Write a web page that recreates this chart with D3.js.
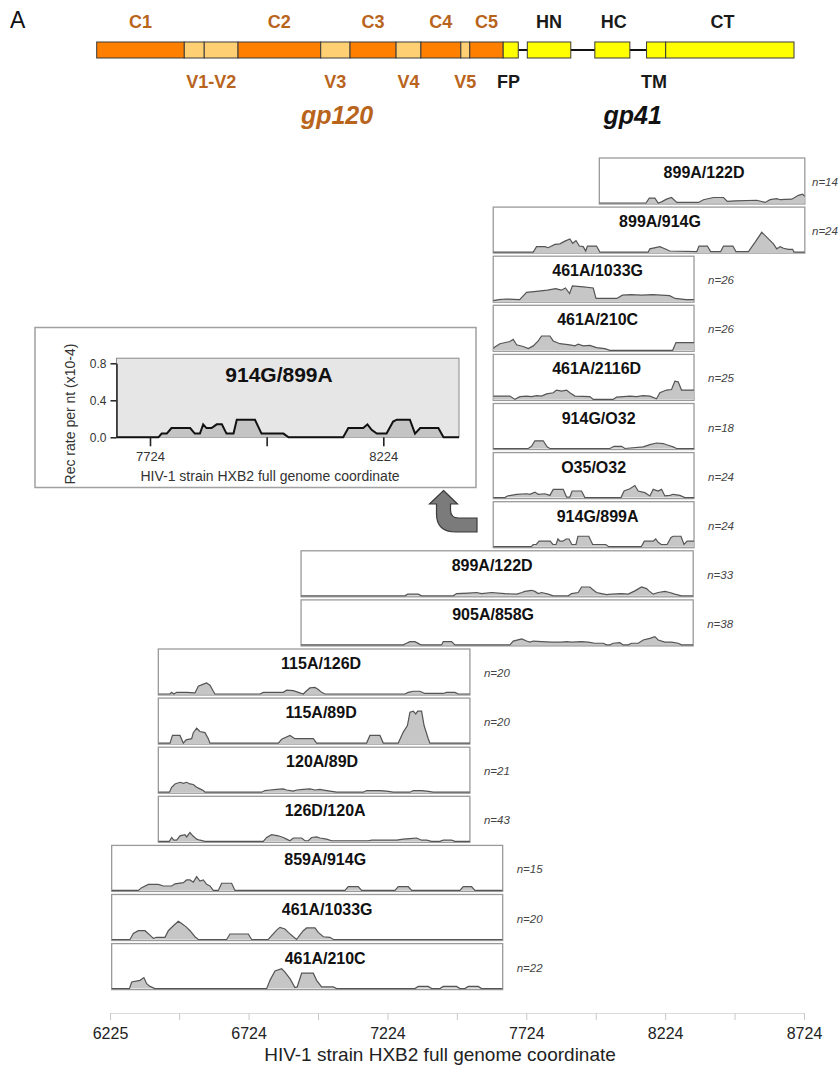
<!DOCTYPE html>
<html>
<head>
<meta charset="utf-8">
<script src="https://cdn.jsdelivr.net/npm/d3@7/dist/d3.min.js"></script>
<style>
  body { margin: 0; background: #fff; }
  text { font-family: "Liberation Sans", Arial, Helvetica, sans-serif; }
</style>
</head>
<body>
<svg id="chart" width="839" height="1071"></svg>
<script>
// ---------- Env gene map (schematic, gp160 residue units) ----------
const segNames = ["C1", "V1", "V2", "C2", "V3", "C3", "V4", "C4", "V5", "C5", "FP", "HN", "HC", "TM", "CT"];
const segStart = [0, 107.5, 132, 173.5, 275, 311, 367.5, 398, 447, 458, 499, 528.6, 611.5, 675, 698.5];
const segEnd   = [107.5, 132, 173.5, 275, 311, 367.5, 398, 447, 458, 499, 517.5, 582, 654.5, 698.5, 856];
const segKind  = ["const", "var", "var", "const", "var", "const", "var", "const", "var", "const", "gp41", "gp41", "gp41", "gp41", "gp41"];
// label text, span it is centred over, protein it belongs to
const mapLabelsTop    = [["C1", 0, 107.5, "gp120"], ["C2", 173.5, 275, "gp120"], ["C3", 311, 367.5, "gp120"], ["C4", 398, 447, "gp120"],
                         ["C5", 458, 499, "gp120"], ["HN", 528.6, 582, "gp41"], ["HC", 611.5, 658, "gp41"], ["CT", 698.5, 838, "gp41"]];
const mapLabelsBottom = [["V1-V2", 107.5, 173.5, "gp120"], ["V3", 275, 311, "gp120"], ["V4", 367.5, 398, "gp120"], ["V5", 447, 458, "gp120"],
                         ["FP", 499, 512, "gp41"], ["TM", 670, 698.5, "gp41"]];
const proteinNames = ["gp120", "gp41"];
const proteinAnchor = [295, 658];

// ---------- Recombination profiles ----------
const panelNames  = ["899A/122D", "899A/914G", "461A/1033G", "461A/210C", "461A/2116D", "914G/O32", "O35/O32", "914G/899A",
                     "899A/122D", "905A/858G", "115A/126D", "115A/89D", "120A/89D", "126D/120A", "859A/914G", "461A/1033G", "461A/210C"];
const panelCounts = [14, 24, 26, 26, 25, 18, 24, 24, 33, 38, 20, 20, 21, 43, 15, 20, 22];
const panelStart  = [7987, 7605, 7605, 7605, 7605, 7605, 7605, 7605, 6913, 6913, 6399, 6399, 6399, 6399, 6231, 6231, 6231];
const panelEnd    = [8727, 8727, 8328, 8328, 8328, 8328, 8328, 8328, 8325, 8325, 7521, 7521, 7521, 7521, 7639, 7639, 7639];

// rate per nt (x10^-4) at HXB2 positions
const rates914G_899A = [[7605,0],[7742,0],[7749,0.04],[7760,0.04],[7770,0.1],[7810,0.1],[7820,0.04],[7831,0.04],[7838,0.14],[7845,0.1],[7856,0.1],[7867,0.14],[7878,0.14],[7888,0.04],[7903,0.04],[7910,0.19],[7949,0.19],[7963,0.04],[8010,0.04],[8021,0],[8138,0],[8149,0.1],[8181,0.1],[8190,0.14],[8199,0.08],[8210,0.04],[8231,0.04],[8245,0.17],[8253,0.19],[8281,0.19],[8292,0.04],[8303,0.1],[8342,0.1],[8353,0],[8408,0]];

const profiles = [
  [[7987,0],[8155,0],[8167,0.09],[8187,0.09],[8199,0],[8211,0.02],[8229,0.07],[8247,0.10],[8266,0.01],[8344,0.01],[8362,0.06],[8398,0.10],[8434,0.10],[8448,0.03],[8476,0.04],[8554,0.05],[8584,0.01],[8602,0.06],[8626,0.08],[8638,0.06],[8680,0.07],[8704,0.14],[8719,0.16],[8727,0.12]],
  [[7605,0],[7749,0],[7761,0.10],[7791,0.10],[7803,0.08],[7827,0.14],[7845,0.15],[7863,0.20],[7881,0.24],[7891,0.16],[7903,0.21],[7915,0.11],[7929,0.10],[7938,0.02],[7944,0.11],[7977,0.11],[7989,0],[8163,0],[8169,0.06],[8205,0.10],[8223,0.06],[8241,0.02],[8338,0.01],[8346,0.11],[8376,0.11],[8388,0.01],[8424,0.01],[8434,0.11],[8468,0.11],[8479,0.01],[8524,0.01],[8548,0.18],[8572,0.36],[8596,0.24],[8614,0.15],[8626,0.06],[8638,0.10],[8650,0.07],[8668,0.05],[8683,0.05],[8688,0],[8727,0]],
  [[7605,0.01],[7625,0.03],[7650,0.04],[7700,0.03],[7725,0.16],[7760,0.18],[7800,0.20],[7830,0.23],[7850,0.20],[7865,0.24],[7880,0.14],[7890,0.28],[7930,0.26],[7965,0.24],[7975,0.05],[8050,0.05],[8070,0.11],[8100,0.12],[8140,0.11],[8180,0.12],[8210,0.11],[8240,0.10],[8260,0.05],[8300,0.03],[8328,0.03]],
  [[7605,0.03],[7608,0.05],[7629,0.12],[7665,0.16],[7677,0.20],[7689,0.10],[7713,0.07],[7731,0.03],[7749,0.08],[7767,0.17],[7779,0.26],[7809,0.26],[7821,0.17],[7845,0.12],[7881,0.10],[7899,0.08],[7911,0.11],[7929,0.08],[7953,0.09],[7977,0.05],[8007,0.03],[8025,0],[8251,0],[8263,0.14],[8328,0.14]],
  [[7605,0.05],[7608,0.06],[7665,0.06],[7683,0],[7701,0.05],[7725,0.06],[7743,0.05],[7761,0.07],[7779,0.06],[7797,0.10],[7821,0.12],[7833,0.17],[7851,0.15],[7869,0.17],[7881,0.12],[7899,0.06],[7953,0.05],[7965,0],[8037,0],[8049,0.04],[8097,0.06],[8121,0.05],[8145,0.07],[8169,0.06],[8193,0.01],[8205,0.12],[8229,0.17],[8247,0.18],[8259,0.33],[8271,0.32],[8283,0.17],[8328,0.17]],
  [[7605,0],[7731,0],[7743,0.04],[7755,0.14],[7785,0.14],[7799,0.03],[7809,0],[8025,0],[8040,0.04],[8067,0.04],[8079,0],[8145,0.03],[8169,0.07],[8193,0.10],[8217,0.09],[8235,0.06],[8253,0.03],[8265,0],[8328,0]],
  [[7605,0],[7647,0],[7656,0.03],[7689,0.06],[7725,0.07],[7737,0.06],[7755,0.10],[7767,0.06],[7791,0.07],[7809,0.04],[7821,0.15],[7857,0.15],[7869,0.01],[7881,0.01],[7889,0.12],[7923,0.12],[7935,0],[8065,0],[8076,0.12],[8097,0.16],[8115,0.22],[8127,0.12],[8151,0.09],[8169,0.03],[8181,0.15],[8199,0.12],[8211,0.15],[8223,0.03],[8241,0.04],[8253,0.06],[8277,0.04],[8295,0],[8328,0]],
  rates914G_899A,
  [[6913,0],[7287,0],[7297,0.03],[7335,0.03],[7347,0],[7461,0],[7473,0.04],[7515,0.05],[7545,0.06],[7563,0.04],[7599,0.06],[7647,0.04],[7690,0.03],[7708,0.06],[7719,0.08],[7743,0.10],[7755,0.08],[7767,0.04],[7779,0.06],[7803,0.03],[7821,0],[7875,0],[7887,0.04],[7911,0.06],[7923,0.16],[7953,0.16],[7962,0.12],[7977,0.06],[7995,0.04],[8013,0.02],[8031,0.03],[8067,0.04],[8091,0.03],[8115,0.09],[8139,0.16],[8157,0.13],[8166,0.09],[8181,0.03],[8199,0.06],[8223,0.08],[8241,0.06],[8259,0.03],[8283,0],[8325,0]],
  [[6913,0],[7281,0],[7293,0.03],[7305,0.06],[7323,0.06],[7341,0.01],[7347,0],[7419,0],[7425,0.06],[7455,0.06],[7467,0],[7665,0],[7677,0.07],[7708,0.11],[7725,0.07],[7737,0.05],[7749,0.07],[7779,0.06],[7815,0.05],[7851,0.05],[7869,0.06],[7887,0.05],[7923,0.06],[7947,0.05],[7971,0.03],[8001,0.03],[8013,0],[8025,0],[8037,0.03],[8061,0.04],[8073,0],[8091,0],[8103,0.03],[8127,0.03],[8145,0.09],[8169,0.12],[8187,0.15],[8199,0.09],[8223,0.05],[8247,0.05],[8271,0.03],[8283,0],[8325,0]],
  [[6399,0],[6441,0],[6447,0.03],[6455,0],[6465,0.03],[6501,0.03],[6531,0.02],[6543,0.14],[6561,0.18],[6573,0.20],[6585,0.16],[6597,0.05],[6603,0],[6765,0],[6777,0.03],[6849,0.03],[6861,0.07],[6885,0.06],[6903,0.03],[6921,0],[6933,0.06],[6945,0.11],[6963,0.12],[6975,0.08],[6987,0.03],[6999,0],[7287,0],[7299,0.03],[7317,0.05],[7341,0.05],[7359,0.01],[7425,0.01],[7437,0.03],[7467,0.03],[7479,0],[7521,0]],
  [[6399,0],[6441,0],[6450,0.14],[6477,0.14],[6489,0],[6499,0.06],[6519,0.08],[6525,0.19],[6537,0.27],[6549,0.21],[6567,0.19],[6579,0.08],[6585,0],[6831,0],[6843,0.07],[6873,0.14],[6891,0.08],[6957,0.08],[6969,0],[7149,0],[7161,0.14],[7197,0.14],[7209,0],[7263,0],[7281,0.20],[7296,0.32],[7305,0.56],[7317,0.58],[7326,0.53],[7333,0.58],[7347,0.58],[7356,0.32],[7371,0.08],[7377,0],[7521,0]],
  [[6399,0],[6439,0],[6447,0.09],[6459,0.15],[6477,0.18],[6489,0.16],[6501,0.18],[6513,0.15],[6525,0.14],[6537,0.09],[6549,0.06],[6561,0.03],[6567,0],[6771,0],[6783,0.03],[6801,0.04],[6825,0.05],[6849,0.06],[6861,0.04],[6885,0.02],[6897,0.04],[6921,0.05],[6945,0.06],[6963,0.04],[6981,0.05],[7005,0.03],[7041,0],[7137,0],[7149,0.03],[7197,0.03],[7221,0.02],[7245,0],[7305,0],[7317,0.03],[7347,0.03],[7365,0.02],[7389,0],[7521,0]],
  [[6399,0],[6439,0],[6447,0.07],[6455,0.02],[6465,0.02],[6477,0.10],[6495,0.12],[6501,0.08],[6513,0.16],[6523,0.10],[6537,0.04],[6549,0.02],[6567,0],[6777,0],[6789,0.07],[6807,0.12],[6831,0.10],[6849,0.07],[6861,0.04],[6873,0.01],[6885,0.06],[6915,0.06],[6927,0.01],[6939,0.01],[6951,0.07],[6969,0.08],[6981,0.06],[7005,0.04],[7023,0.01],[7155,0.01],[7167,0.02],[7257,0.02],[7281,0.04],[7305,0.05],[7329,0.06],[7347,0.02],[7365,0.02],[7383,0],[7413,0],[7425,0.02],[7455,0.02],[7467,0],[7521,0]],
  [[6231,0],[6327,0],[6339,0.05],[6363,0.11],[6399,0.11],[6417,0.08],[6447,0.08],[6459,0.12],[6489,0.14],[6501,0.19],[6513,0.19],[6525,0.15],[6537,0.25],[6549,0.17],[6561,0.19],[6573,0.11],[6585,0.08],[6597,0],[6615,0],[6627,0.13],[6663,0.13],[6675,0],[7071,0],[7083,0.07],[7119,0.07],[7131,0],[7251,0],[7263,0.07],[7299,0.07],[7311,0],[7485,0],[7497,0.07],[7527,0.07],[7539,0],[7639,0]],
  [[6231,0],[6297,0],[6309,0.11],[6327,0.16],[6351,0.16],[6369,0.08],[6381,0.02],[6393,0.04],[6423,0.04],[6435,0.16],[6453,0.25],[6471,0.33],[6483,0.29],[6499,0.23],[6513,0.16],[6531,0.05],[6543,0],[6645,0],[6657,0.10],[6723,0.10],[6735,0],[6795,0],[6807,0.07],[6825,0.17],[6837,0.22],[6855,0.19],[6867,0.13],[6885,0.05],[6897,0],[6907,0.07],[6921,0.16],[6933,0.21],[6963,0.21],[6975,0.13],[6993,0.05],[7017,0.04],[7029,0],[7639,0]],
  [[6231,0],[6295,0],[6303,0.12],[6333,0.15],[6347,0.20],[6357,0.09],[6369,0.04],[6387,0],[6789,0],[6801,0.15],[6819,0.32],[6843,0.36],[6855,0.30],[6873,0.18],[6891,0.02],[6899,0.03],[6915,0.28],[6957,0.28],[6969,0.15],[6987,0.03],[7029,0.03],[7041,0],[7323,0],[7335,0.04],[7371,0.04],[7383,0],[7413,0],[7425,0.04],[7473,0.04],[7485,0],[7503,0],[7515,0.04],[7551,0.04],[7563,0],[7639,0]]
];

// ---------- Axes ----------
const axisTicks  = [6225, 6474, 6724, 6974, 7224, 7474, 7724, 7974, 8224, 8474, 8724];
const axisLabels = ["6225", "", "6724", "", "7224", "", "7724", "", "8224", "", "8724"];
const insetXTicks  = [7724, 7974, 8224];
const insetXLabels = ["7724", "", "8224"];
const insetYTicks  = [0, 0.4, 0.8];

// ================= drawing =================
const W = 839;
const svg = d3.select("#chart");
const brown = "#b8641c";

// panel letter
svg.append("text").attr("x", 10).attr("y", 28).attr("font-size", 23).attr("fill", "#111").text("A");

// gene map
const gm = d3.scaleLinear().domain([0, 856]).range([96.7, 794]);
const barY = 42, barH = 16;
const fillFor = { const: "#ff8000", var: "#ffd073", gp41: "#ffff00" };
// connector line through the gp41 gaps
svg.append("line").attr("x1", gm(segEnd[10])).attr("x2", gm(segStart[14]))
  .attr("y1", barY + barH / 2).attr("y2", barY + barH / 2)
  .attr("stroke", "#111").attr("stroke-width", 2.2);
svg.append("g").selectAll("rect").data(segNames).join("rect")
  .attr("x", (d, i) => gm(segStart[i])).attr("y", barY)
  .attr("width", (d, i) => gm(segEnd[i]) - gm(segStart[i])).attr("height", barH)
  .attr("fill", (d, i) => fillFor[segKind[i]])
  .attr("stroke", "#3a3a3a").attr("stroke-width", 1);

const labelColor = d => d[3] === "gp120" ? brown : "#1a1a1a";
svg.append("g").selectAll("text").data(mapLabelsTop).join("text")
  .attr("x", d => gm((d[1] + d[2]) / 2)).attr("y", 28)
  .attr("text-anchor", "middle").attr("font-size", 18).attr("font-weight", "bold")
  .attr("fill", labelColor).text(d => d[0]);
svg.append("g").selectAll("text").data(mapLabelsBottom).join("text")
  .attr("x", d => gm((d[1] + d[2]) / 2)).attr("y", 88)
  .attr("text-anchor", "middle").attr("font-size", 18).attr("font-weight", "bold")
  .attr("fill", labelColor).text(d => d[0]);
svg.append("g").selectAll("text").data(proteinNames).join("text")
  .attr("x", (d, i) => gm(proteinAnchor[i])).attr("y", 124)
  .attr("text-anchor", "middle").attr("font-size", 25).attr("font-weight", "bold").attr("font-style", "italic")
  .attr("fill", (d, i) => i === 0 ? brown : "#111").text(d => d);

// main panels
const x = d3.scaleLinear().domain([6225, 8724]).range([110, 804]);
const panelTop = i => 158 + i * 49.1;
const panelH = 46;
const yRate = d3.scaleLinear().domain([0, 1]).range([0, 55]);
const titleNudge = [2, 11, 4, 4, 3, 5, 0, 4, -5, -4, 7, 7, 8, 11, 18, 20, 18];

const panels = panelNames.map((name, i) => ({
  name, n: panelCounts[i], start: panelStart[i], end: panelEnd[i], pts: profiles[i], i
}));

const defs = svg.append("defs");
const pg = svg.append("g");
panels.forEach(p => {
  const top = panelTop(p.i);
  const x0 = x(p.start), x1 = x(p.end);
  const base = top + panelH - 1;
  const clipId = "clip" + p.i;
  defs.append("clipPath").attr("id", clipId).append("rect")
    .attr("x", x0).attr("y", top).attr("width", x1 - x0).attr("height", panelH);
  const g = pg.append("g");
  g.append("rect").attr("x", x0).attr("y", top).attr("width", x1 - x0).attr("height", panelH)
    .attr("fill", "#fff").attr("stroke", "#9a9a9a").attr("stroke-width", 1.3);
  const area = d3.area().x(d => x(d[0])).y0(base).y1(d => base - yRate(d[1]));
  const line = d3.line().x(d => x(d[0])).y(d => base - yRate(d[1]));
  const cg = g.append("g").attr("clip-path", `url(#${clipId})`);
  cg.append("path").datum(p.pts).attr("d", area).attr("fill", "#c6c6c6");
  cg.append("path").datum(p.pts).attr("d", line).attr("fill", "none")
    .attr("stroke", "#555").attr("stroke-width", 1.2);
  g.append("text").attr("x", (x0 + x1) / 2 + titleNudge[p.i]).attr("y", top + 20)
    .attr("text-anchor", "middle").attr("font-size", 16).attr("font-weight", "bold")
    .attr("fill", "#111").text(p.name);
  // sample size, kept inside the page at the right edge
  g.append("text").attr("x", Math.min(x1 + 14, W - 27)).attr("y", top + 28)
    .attr("font-size", 11.5).attr("font-style", "italic").attr("fill", "#444")
    .text("n=" + p.n);
});

// bottom axis
const axisY = 1013;
const ax = svg.append("g").attr("transform", `translate(0,${axisY})`)
  .call(d3.axisBottom(x).tickValues(axisTicks).tickFormat((d, i) => axisLabels[i]).tickSize(7).tickPadding(8));
ax.select(".domain").attr("stroke", "#dcdcdc");
ax.selectAll(".tick line").attr("stroke", "#c8c8c8");
ax.selectAll(".tick text").attr("font-size", 16).attr("fill", "#222").attr("font-family", null);
svg.append("text").attr("x", 440).attr("y", 1061).attr("text-anchor", "middle")
  .attr("font-size", 19).attr("fill", "#222").text("HIV-1 strain HXB2 full genome coordinate");

// inset: enlarged 914G/899A profile
const frame = { x: 35, y: 327.5, w: 441, h: 160 };
svg.append("rect").attr("x", frame.x).attr("y", frame.y).attr("width", frame.w).attr("height", frame.h)
  .attr("fill", "#fff").attr("stroke", "#a0a0a0").attr("stroke-width", 1.5);
const ix = d3.scaleLinear().domain([7724, 8224]).range([150, 383.3]);
const iy = d3.scaleLinear().domain([0, 0.8]).range([437.3, 363.3]);
const boxL = 116.5, boxR = 459;
svg.append("rect").attr("x", boxL).attr("y", iy(0.855)).attr("width", boxR - boxL).attr("height", iy(0) - iy(0.855))
  .attr("fill", "#e6e6e6").attr("stroke", "#8a8a8a").attr("stroke-width", 1);
defs.append("clipPath").attr("id", "insetClip").append("rect")
  .attr("x", boxL).attr("y", iy(0.855)).attr("width", boxR - boxL).attr("height", iy(0) - iy(0.855) + 2);
const ig = svg.append("g").attr("clip-path", "url(#insetClip)");
ig.append("path").datum(rates914G_899A)
  .attr("d", d3.area().x(d => ix(d[0])).y0(iy(0)).y1(d => iy(d[1])))
  .attr("fill", "#c4c4c4");
ig.append("path").datum(rates914G_899A)
  .attr("d", d3.line().x(d => ix(d[0])).y(d => iy(d[1])))
  .attr("fill", "none").attr("stroke", "#111").attr("stroke-width", 2);
svg.append("text").attr("x", 279).attr("y", 382).attr("text-anchor", "middle")
  .attr("font-size", 21).attr("font-weight", "bold").attr("fill", "#111").text("914G/899A");

const iya = svg.append("g").attr("transform", `translate(${boxL},0)`)
  .call(d3.axisLeft(iy).tickValues(insetYTicks).tickFormat(d3.format(".1f")).tickSize(6).tickPadding(4).tickSizeOuter(0));
iya.select(".domain").attr("stroke", "#222").attr("stroke-width", 1.5);
iya.selectAll(".tick line").attr("stroke", "#222").attr("stroke-width", 1.5);
iya.selectAll(".tick text").attr("font-size", 12).attr("fill", "#333").attr("font-family", null);

const ixa = svg.append("g").attr("transform", `translate(0,${iy(0)})`)
  .call(d3.axisBottom(ix).tickValues(insetXTicks).tickFormat((d, i) => insetXLabels[i]).tickSize(9).tickPadding(5));
ixa.select(".domain").remove();
ixa.selectAll(".tick line").attr("stroke", "#222").attr("stroke-width", 1.6);
ixa.selectAll(".tick text").attr("font-size", 13).attr("fill", "#333").attr("font-family", null);

svg.append("text").attr("transform", "translate(75,414) rotate(-90)").attr("text-anchor", "middle")
  .attr("font-size", 14).attr("fill", "#333").text("Rec rate per nt (x10-4)");
svg.append("text").attr("x", 270).attr("y", 481).attr("text-anchor", "middle")
  .attr("font-size", 14).attr("fill", "#333").text("HIV-1 strain HXB2 full genome coordinate");

// curved pointer from the 914G/899A panel up to the inset
const ap = d3.path();
ap.moveTo(443.5, 490.5);
ap.lineTo(457.5, 504);
ap.lineTo(450.5, 504);
ap.lineTo(450.5, 510);
ap.quadraticCurveTo(450.5, 518, 458.5, 518);
ap.lineTo(477, 518);
ap.lineTo(477, 532);
ap.lineTo(456, 532);
ap.quadraticCurveTo(436.5, 532, 436.5, 514);
ap.lineTo(436.5, 504);
ap.lineTo(429.5, 504);
ap.closePath();
svg.append("path").attr("d", ap.toString()).attr("fill", "#7b7b7b").attr("stroke", "#3a3a3a").attr("stroke-width", 1.2);
</script>
</body>
</html>
